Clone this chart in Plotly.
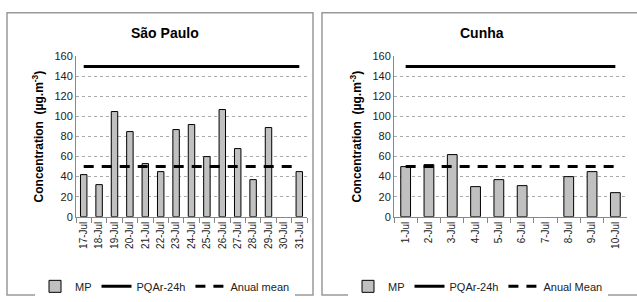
import plotly.graph_objects as go
from plotly.subplots import make_subplots

sp_days = ["17-Jul","18-Jul","19-Jul","20-Jul","21-Jul","22-Jul","23-Jul","24-Jul",
           "25-Jul","26-Jul","27-Jul","28-Jul","29-Jul","30-Jul","31-Jul"]
sp_mp = [42, 32, 105, 85, 53, 45, 87, 92, 60, 107, 68, 37, 89, None, 45]
cu_days = ["1-Jul","2-Jul","3-Jul","4-Jul","5-Jul","6-Jul","7-Jul","8-Jul","9-Jul","10-Jul"]
cu_mp = [50, 52, 62, 30, 37, 31, None, 40, 45, 24]
pqar_24h = 150
annual_mean = 50

W, H = 637, 302
def px(x): return x / W
def py(y):
    yy = 151 + (y - 151) / 0.965
    yy = min(max(yy, 1), H - 1)
    return 1 - yy / H

fig = make_subplots(rows=1, cols=2)

panels = [
    (sp_days, sp_mp, "Anual mean", "legend", 1),
    (cu_days, cu_mp, "Anual Mean", "legend2", 2),
]
for days, mp, mean_name, leg, col in panels:
    fig.add_trace(go.Bar(x=days, y=mp, name="MP", marker=dict(color="#c0c0c0", line=dict(color="#000", width=1)),
                         legend=leg), row=1, col=col)
    fig.add_trace(go.Scatter(x=days, y=[pqar_24h]*len(days), mode="lines", name="PQAr-24h",
                             line=dict(color="#000", width=3), legend=leg), row=1, col=col)
    fig.add_trace(go.Scatter(x=days, y=[annual_mean]*len(days), mode="lines", name=mean_name,
                             line=dict(color="#000", width=3, dash="10px,8px"), legend=leg), row=1, col=col)

font = "Liberation Sans, Arial, sans-serif"
fig.update_layout(
    width=W, height=H, margin=dict(l=0, r=0, t=0, b=0),
    paper_bgcolor="white", plot_bgcolor="white",
    font=dict(family=font, size=10, color="#222"),
    bargap=0.58,
    showlegend=True,
    legend=dict(orientation="h", x=px(165), xanchor="center", y=py(287), yanchor="middle",
                font=dict(size=11), itemwidth=30, tracegroupgap=0, traceorder="normal"),
    legend2=dict(orientation="h", x=px(478), xanchor="center", y=py(287), yanchor="middle",
                 font=dict(size=11), itemwidth=30, tracegroupgap=0, traceorder="normal"),
)

axes = [("xaxis", "yaxis", 76, 307), ("xaxis2", "yaxis2", 394, 627)]
for xa, ya, x0, x1 in axes:
    fig.layout[xa].update(domain=[px(x0), px(x1)], type="category", showline=True, linecolor="#888",
                          ticks="outside", tickson="boundaries", ticklen=5, tickcolor="#888",
                          tickangle=-90, tickfont=dict(size=10, color="#222"), showgrid=False)
    fig.layout[ya].update(domain=[py(217), py(56)], range=[0, 160], dtick=20, showline=True,
                          linecolor="#888", showgrid=True, gridcolor="#aaa", griddash="dot",
                          tickfont=dict(size=11, color="#222"), ticks="", zeroline=False,
                          title=dict(text="<b>Concentration  (µg.m<sup>-3</sup>)</b>",
                                     font=dict(size=12, color="#000"), standoff=8))

# panel titles
fig.add_annotation(text="<b>São Paulo</b>", x=px(165), y=py(32), xref="paper", yref="paper",
                   xanchor="center", yanchor="middle",
                   showarrow=False, font=dict(size=14, color="#000"))
fig.add_annotation(text="<b>Cunha</b>", x=px(482), y=py(32), xref="paper", yref="paper",
                   xanchor="center", yanchor="middle",
                   showarrow=False, font=dict(size=14, color="#000"))

# panel borders
for x0, x1 in [(7, 313), (322, 640)]:
    fig.add_shape(type="rect", xref="paper", yref="paper", x0=px(x0), x1=px(x1), y0=py(300), y1=py(12),
                  line=dict(color="#999", width=1.5))

css_js = (
    "var s=document.createElement('style');"
    "s.textContent='html,body{margin:0;padding:0;overflow:hidden;}';"
    "document.head.appendChild(s);"
)
fig.write_html("out.html", config={"displayModeBar": False}, post_script=css_js)
